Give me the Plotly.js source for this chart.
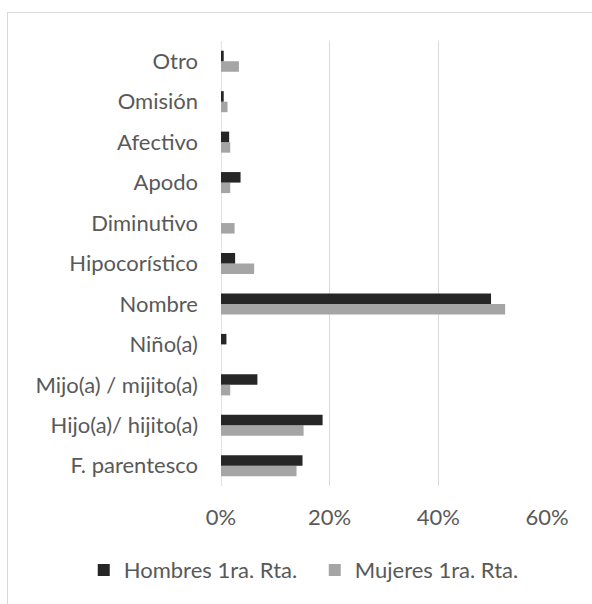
<!DOCTYPE html>
<html>
<head>
<meta charset="utf-8">
<script src="https://cdn.plot.ly/plotly-3.0.1.min.js"></script>
<style>
  html, body { margin: 0; padding: 0; background: #fff; }
  #wrap { position: relative; width: 592px; height: 604px; overflow: hidden; }
  #chart { width: 592px; height: 604px; }
  #frame { position: absolute; left: 7px; top: 12px; width: 700px; height: 700px;
           border-left: 1px solid #d9d9d9; border-top: 1px solid #d9d9d9; pointer-events: none; }
</style>
</head>
<body>
<div id="wrap">
  <div id="chart"></div>
  <div id="frame"></div>
</div>
<script>
const categories = ["F. parentesco", "Hijo(a)/ hijito(a)", "Mijo(a) / mijito(a)", "Niño(a)", "Nombre",
  "Hipocorístico", "Diminutivo", "Apodo", "Afectivo", "Omisión", "Otro"];
const hombres = [0.150, 0.187, 0.067, 0.010, 0.497, 0.026, 0.000, 0.036, 0.015, 0.005, 0.005];
const mujeres = [0.139, 0.152, 0.017, 0.000, 0.523, 0.061, 0.025, 0.017, 0.017, 0.012, 0.033];
const tickVals = [0, 0.2, 0.4, 0.6];
const tickText = ["0%", "20%", "40%", "60%"];

const font = { family: "Lato, 'Open Sans', sans-serif", size: 22, color: "#595959" };

const data = [
  { type: "bar", orientation: "h", name: "Mujeres 1ra. Rta.", y: categories, x: mujeres,
    marker: { color: "#a5a5a5" } },
  { type: "bar", orientation: "h", name: "Hombres 1ra. Rta.", y: categories, x: hombres,
    marker: { color: "#262626" } }
];

const layout = {
  width: 592, height: 604,
  margin: { l: 221, r: 45, t: 41, b: 118 },
  paper_bgcolor: "#fff", plot_bgcolor: "#fff",
  font: font,
  barmode: "group",
  bargap: 0.48,
  bargroupgap: 0,
  showlegend: true,
  legend: { orientation: "h", traceorder: "reversed", xref: "paper", yref: "paper",
            x: -0.421, xanchor: "left", y: -0.189, yanchor: "middle", font: font,
            entrywidth: 186, itemclick: false, bgcolor: "rgba(0,0,0,0)" },
  xaxis: { range: [0, 0.6], tickvals: tickVals, ticktext: tickText, showgrid: true,
           gridcolor: "#d9d9d9", gridwidth: 1.5, zeroline: false, showline: false, ticks: "",
           ticklabelstandoff: 16, fixedrange: true },
  yaxis: { type: "category", categoryorder: "array", categoryarray: categories,
           showgrid: false, zeroline: false, showline: false, ticks: "",
           ticklabelstandoff: 22, fixedrange: true },
  shapes: [{ type: "line", xref: "x", yref: "paper", x0: 0, x1: 0, y0: 0, y1: 1,
             line: { color: "#d9d9d9", width: 1.5 }, layer: "below" }]
};

Plotly.newPlot("chart", data, layout, { displayModeBar: false, staticPlot: true });
</script>
</body>
</html>
